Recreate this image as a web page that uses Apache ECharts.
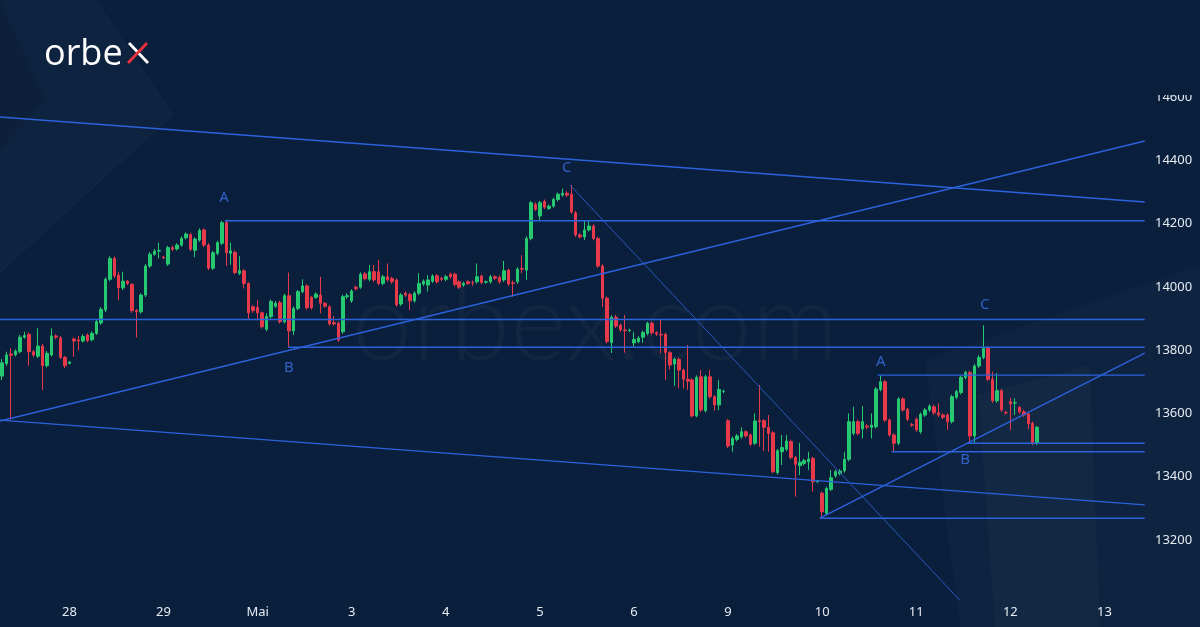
<!DOCTYPE html>
<html>
<head>
<meta charset="utf-8">
<script src="https://cdn.jsdelivr.net/npm/echarts@6/dist/echarts.min.js"></script>
<style>
html, body { margin: 0; padding: 0; background: #0a1f3c; }
#chart { width: 1200px; height: 627px; }
</style>
</head>
<body>
<div id="chart"></div>
<script>
// time axis: 21 hourly bars per session, only the end of 27 April is visible
const dayLabels = ['27', '28', '29', 'Mai', '3', '4', '5', '6', '9', '10', '11', '12', '13'];
const barsPerDay = 21;
const firstDayBars = 15;
const barCount = 256;

// hourly candles [open, close, low, high]
const apr27 = [
  [13718,13760,13705,13772],[13758,13785,13750,13795],[13788,13784,13580,13806],[13786,13797,13780,13803],
  [13795,13841,13790,13848],[13841,13846,13836,13858],[13850,13795,13751,13856],[13795,13785,13778,13800],
  [13781,13813,13775,13869],[13813,13751,13674,13820],[13751,13790,13745,13797],[13785,13845,13780,13869],
  [13845,13841,13835,13850],[13839,13777,13772,13845],[13777,13751,13743,13782]
];
const apr28 = [
  [13758,13762,13755,13766],[13835,13829,13779,13840],[13832,13829,13800,13845],[13829,13843,13824,13850],
  [13848,13830,13825,13853],[13833,13853,13828,13860],[13853,13890,13848,13896],[13886,13929,13880,13936],
  [13927,14024,13920,14030],[14024,14090,14018,14097],[14090,14034,14028,14096],[14037,13997,13958,14048],
  [13997,14018,13990,14048],[14018,14011,14005,14022],[14008,13925,13918,14012],[13925,13921,13840,13930],
  [13921,13974,13915,13980],[13974,14066,13968,14072],[14066,14103,14060,14110],[14103,14113,14098,14120],
  [14113,14115,14090,14140]
];
const apr29 = [
  [14094,14092,14088,14098],[14072,14124,14066,14130],[14124,14119,14113,14130],[14120,14132,14115,14138],
  [14132,14153,14127,14160],[14155,14167,14150,14172],[14165,14119,14113,14170],[14116,14151,14094,14157],
  [14148,14178,14142,14185],[14180,14132,14126,14185],[14132,14059,14053,14138],[14059,14108,14053,14114],
  [14106,14140,14100,14146],[14138,14203,14132,14209],[14203,14108,14066,14210],[14106,14114,14070,14140],
  [14109,14045,14040,14115],[14043,14051,14037,14097],[14051,14011,13995,14056],[14011,13918,13897,14015],
  [13937,13925,13918,13942]
];
const may2 = [
  [13935,13918,13895,13958],[13918,13874,13868,13922],[13866,13906,13860,13916],[13906,13954,13900,13960],
  [13939,13948,13933,13955],[13950,13890,13884,13956],[13890,13972,13884,13978],[13972,13861,13809,14045],
  [13861,13932,13848,13938],[13932,13985,13926,13990],[13985,14003,13980,14024],[14003,13934,13928,14008],
  [13967,13934,13928,13972],[13967,13977,13962,13983],[13974,13948,13916,14032],[13948,13939,13934,13952],
  [13937,13883,13877,13942],[13887,13883,13878,13908],[13885,13832,13826,13890],[13858,13969,13852,13975],
  [13969,13972,13962,13980]
];
const may3 = [
  [13956,13987,13950,13992],[13999,13994,13989,14004],[13999,14040,13994,14046],[14041,14026,14020,14047],
  [14024,14048,14018,14069],[14048,14022,14016,14069],[14048,14011,14005,14085],[14011,14032,14005,14038],
  [14032,14022,14016,14074],[14027,14016,14010,14032],[14022,13943,13937,14027],[13946,13974,13940,13980],
  [13980,13974,13968,13985],[13976,13956,13927,13981],[13956,13980,13950,13986],[13980,14011,13974,14043],
  [14009,14018,14003,14024],[14006,14022,13985,14037],[14018,14034,14012,14040],[14035,14016,14011,14040],
  [14027,14024,14018,14032]
];
const may4 = [
  [14024,14032,14018,14038],[14040,14032,14026,14045],[14040,14008,14002,14045],[14016,13999,13993,14021],
  [14006,14011,14000,14016],[14016,14011,14006,14021],[14014,14013,14003,14020],[14016,14032,14010,14074],
  [14034,14014,14008,14039],[14015,14016,14010,14020],[14016,14032,14010,14038],[14032,14027,14022,14037],
  [14030,14016,14010,14036],[14022,14051,14016,14082],[14053,14009,14003,14058],[14013,14011,13969,14020],
  [14016,14056,14010,14062],[14058,14056,14043,14100],[14053,14153,14022,14160],[14153,14266,14147,14272],
  [14261,14245,14240,14267]
];
const may5 = [
  [14224,14266,14211,14272],[14270,14252,14246,14276],[14248,14255,14243,14260],[14255,14276,14250,14282],
  [14276,14293,14270,14298],[14290,14296,14285,14311],[14296,14290,14284,14302],[14293,14237,14231,14322],
  [14234,14164,14158,14240],[14164,14158,14153,14169],[14158,14180,14148,14211],[14180,14192,14175,14211],
  [14192,14153,14147,14198],[14153,14066,14060,14158],[14066,13964,13937,14071],[13964,13827,13821,13970],
  [13824,13904,13791,13910],[13904,13876,13870,13911],[13879,13864,13858,13884],[13864,13861,13792,13911],
  [13862,13863,13857,13868]
];
const may6 = [
  [13823,13834,13811,13858],[13827,13838,13822,13844],[13841,13856,13823,13862],[13853,13885,13847,13890],
  [13885,13855,13849,13890],[13855,13851,13845,13860],[13850,13848,13790,13897],[13850,13792,13706,13855],
  [13792,13753,13739,13797],[13756,13771,13687,13776],[13771,13737,13679,13776],[13737,13708,13679,13742],
  [13708,13702,13674,13816],[13706,13592,13588,13711],[13592,13714,13588,13720],[13716,13611,13605,13737],
  [13609,13716,13603,13722],[13716,13653,13647,13737],[13653,13627,13608,13658],[13627,13676,13611,13706],
  [13669,13670,13664,13675]
];
const may9 = [
  [13577,13497,13490,13582],[13500,13521,13479,13527],[13518,13529,13512,13535],[13526,13542,13520,13556],
  [13542,13529,13523,13547],[13532,13503,13497,13537],[13506,13576,13500,13600],[13577,13574,13495,13690],
  [13577,13556,13482,13582],[13556,13537,13479,13595],[13539,13416,13411,13544],[13413,13482,13407,13488],
  [13479,13492,13437,13532],[13487,13513,13481,13532],[13511,13461,13455,13517],[13461,13439,13337,13466],
  [13435,13446,13405,13507],[13442,13451,13436,13457],[13447,13456,13421,13479],[13458,13384,13353,13463],
  [13384,13385,13380,13389]
];
const may10 = [
  [13348,13289,13269,13353],[13284,13363,13278,13368],[13360,13397,13355,13421],[13403,13416,13397,13422],
  [13410,13418,13404,13424],[13419,13455,13413,13479],[13455,13574,13449,13600],[13537,13574,13531,13621],
  [13574,13537,13531,13580],[13551,13574,13521,13623],[13560,13557,13550,13566],[13556,13563,13521,13600],
  [13558,13677,13552,13683],[13676,13700,13670,13721],[13700,13579,13573,13706],[13579,13532,13526,13584],
  [13532,13506,13479,13537],[13506,13646,13500,13651],[13646,13611,13605,13651],[13613,13582,13576,13618],
  [13564,13563,13558,13570]
];
const may11 = [
  [13582,13548,13542,13587],[13542,13597,13536,13603],[13595,13611,13589,13617],[13611,13623,13605,13629],
  [13621,13602,13596,13627],[13602,13595,13589,13632],[13595,13588,13582,13600],[13595,13574,13548,13600],
  [13574,13653,13568,13659],[13651,13669,13645,13675],[13666,13714,13660,13720],[13714,13729,13708,13735],
  [13729,13529,13506,13735],[13529,13750,13506,13756],[13750,13777,13744,13785],[13777,13806,13771,13879],
  [13806,13708,13702,13812],[13708,13640,13634,13732],[13640,13672,13634,13727],[13672,13611,13605,13678],
  [13603,13602,13596,13608]
];
const may12 = [
  [13637,13630,13548,13649],[13633,13634,13595,13648],[13619,13605,13599,13624],[13605,13595,13589,13611],
  [13598,13567,13550,13603],[13569,13506,13500,13574],[13506,13556,13500,13561]
];

// drawn analysis: [bar index, price] end points
const channelLines = [
  [[-0.5, 14537], [255, 14268]],
  [[-0.5, 13579], [255, 13311]],
  [[-0.5, 13576], [255, 14461]],
  [[49.7, 14209], [255, 14209]],
  [[-0.5, 13897], [255, 13897]],
  [[63.8, 13809], [255, 13809]],
  [[182.5, 13269], [255, 13791]],
  [[182.5, 13269], [255, 13269]],
  [[195.4, 13721], [255, 13721]],
  [[198.5, 13479], [255, 13479]],
  [[215.5, 13506], [255, 13506]]
];
const impulseLine = [[126.7, 14322], [213.7, 13010]];
const waveLabels = [
  ['A', 49.5, 14281], ['B', 64, 13744], ['C', 126, 14376],
  ['A', 196.1, 13762], ['B', 214.9, 13453], ['C', 219.3, 13943]
];

const yTicks = [13200, 13400, 13600, 13800, 14000, 14200, 14400, 14600];

// build categories day|hour
const categories = [];
dayLabels.forEach((d, k) => {
  const start = k === 0 ? barsPerDay - firstDayBars : 0;
  for (let h = start; h < barsPerDay; h++) categories.push(d + '|' + h);
});
categories.length = barCount;

const candles = [].concat(apr27, apr28, apr29, may2, may3, may4, may5, may6, may9, may10, may11, may12);

const bg = '#0a1f3c';
const lineBlue = '#2c62dc';

const series = [{
  type: 'candlestick',
  data: candles,
  barWidth: 3,
  itemStyle: {
    color: '#26c96f', color0: '#e8394a',
    borderColor: '#26c96f', borderColor0: '#e8394a',
    borderWidth: 1
  },
  z: 2
}];
channelLines.forEach(l => {
  series.push({
    type: 'line', xAxisIndex: 1, data: l, symbol: 'none', silent: true,
    lineStyle: { color: lineBlue, width: 1.4 }, z: 3
  });
});
series.push({
  type: 'line', xAxisIndex: 1, data: impulseLine, symbol: 'none', silent: true,
  lineStyle: { color: '#2a57c4', width: 1 }, z: 3
});
series.push({
  type: 'scatter', xAxisIndex: 1, symbolSize: 1, silent: true,
  itemStyle: { color: 'rgba(0,0,0,0)' },
  data: waveLabels.map(w => ({ name: w[0], value: [w[1], w[2]] })),
  label: {
    show: true, position: 'inside', formatter: '{b}',
    color: '#3d71ea', fontSize: 15, fontFamily: 'Noto Sans'
  },
  z: 4
});

const chart = echarts.init(document.getElementById('chart'));
chart.setOption({
  backgroundColor: bg,
  animation: false,
  graphic: [
    { type: 'polygon', silent: true, z: 0, shape: { points: [[0, 0], [95, 0], [172, 115], [0, 272]] },
      style: { fill: 'rgba(255,255,255,0.018)' } },
    { type: 'polyline', silent: true, z: 0, shape: { points: [[95, 0], [172, 115], [0, 272]] },
      style: { stroke: 'rgba(255,255,255,0.045)', lineWidth: 1, fill: null } },
    { type: 'polygon', silent: true, z: 0, shape: { points: [[0, 0], [45, 100], [0, 150]] },
      style: { fill: 'rgba(0,0,0,0.06)' } },
    { type: 'polygon', silent: true, z: 0, shape: { points: [[925, 360], [1200, 265], [1200, 627], [960, 627]] },
      style: { fill: 'rgba(255,255,255,0.018)' } },
    { type: 'polygon', silent: true, z: 0, shape: { points: [[978, 395], [1090, 365], [1100, 627], [995, 627]] },
      style: { fill: 'rgba(255,255,255,0.022)' } },
    { type: 'text', silent: true, z: 0,
      style: { text: 'orbex.com', x: 352, y: 325, font: '300 108px Lato', fill: 'rgba(255,255,255,0.035)',
               align: 'left', verticalAlign: 'middle', textAlign: 'left', textVerticalAlign: 'middle' } },
    { type: 'text', silent: true, z: 10,
      style: { text: 'orbe', x: 44, y: 55, font: '400 36px "Open Sans"', fill: '#ffffff',
               align: 'left', verticalAlign: 'middle', textAlign: 'left', textVerticalAlign: 'middle' } },
    { type: 'line', silent: true, z: 10, shape: { x1: 129, y1: 43, x2: 148, y2: 63 },
      style: { stroke: '#ffffff', lineWidth: 2.8 } },
    { type: 'line', silent: true, z: 11, shape: { x1: 147, y1: 43, x2: 128, y2: 63 },
      style: { stroke: '#e8303d', lineWidth: 2.8 } },
    // the price scale is cut just above the 14600 label
    { type: 'rect', silent: true, z: 100, shape: { x: 1148, y: 0, width: 52, height: 95 },
      style: { fill: bg } }
  ],
  grid: { left: 0, top: 33.73, width: 1147, height: 569.57 },
  xAxis: [{
    type: 'category', data: categories, boundaryGap: true,
    axisLine: { show: false }, axisTick: { show: false }, splitLine: { show: false },
    axisLabel: {
      color: '#e6ebf2', fontSize: 13, fontFamily: 'Noto Sans', margin: 2,
      interval: (i, v) => v.split('|')[1] === '0',
      formatter: v => v.split('|')[0]
    }
  }, {
    type: 'value', min: -0.5, max: barCount - 0.5, show: false
  }],
  yAxis: {
    type: 'value', position: 'right', min: 13000, max: 14800, interval: 200,
    axisLine: { show: false }, axisTick: { show: false }, splitLine: { show: false },
    axisLabel: {
      color: '#e6ebf2', fontSize: 13, fontFamily: 'Noto Sans', margin: 8,
      formatter: v => yTicks.indexOf(v) >= 0 ? String(v) : ''
    }
  },
  series: series
});
</script>
</body>
</html>
